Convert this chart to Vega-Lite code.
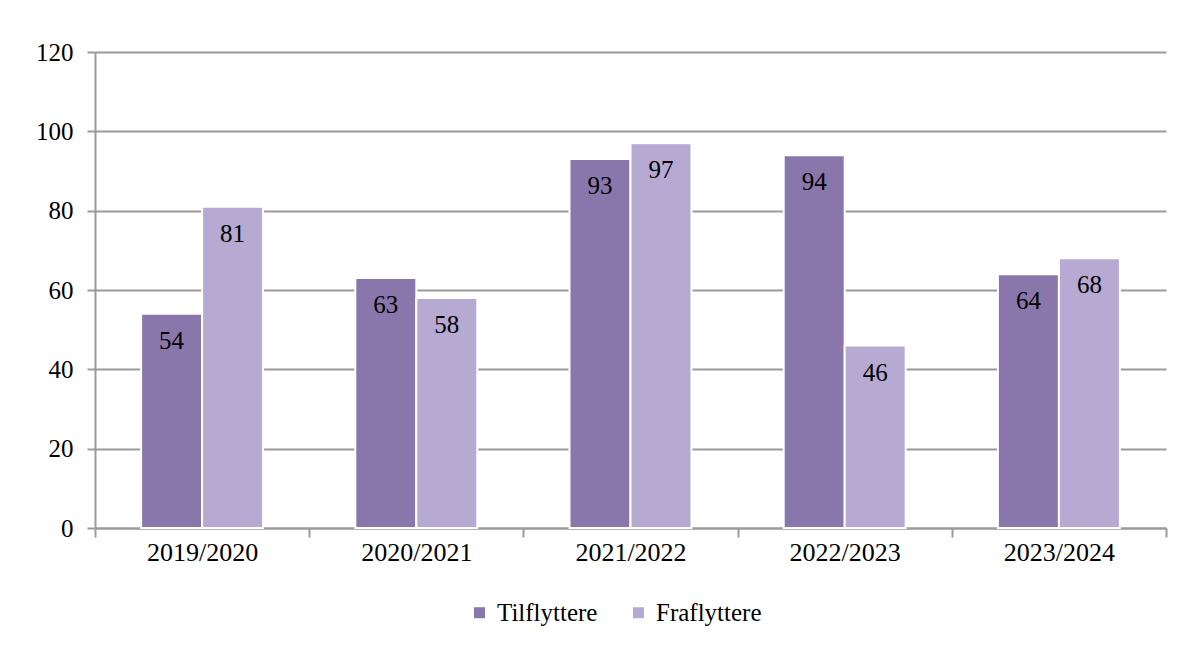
{
  "$schema": "https://vega.github.io/schema/vega-lite/v6.json",
  "width": 1071,
  "height": 476,
  "autosize": {"type": "none"},
  "padding": {"left": 95, "top": 52, "right": 34, "bottom": 129},
  "background": "white",
  "config": {
    "view": {"stroke": null},
    "font": "Liberation Serif",
    "axis": {"labelFont": "Liberation Serif", "labelColor": "black", "labelFontSize": 25, "domainColor": "#9a9a9a", "tickColor": "#9a9a9a", "domainWidth": 2, "tickWidth": 2}
  },
  "data": {
    "values": [
      {"periode": "2019/2020", "serie": "Tilflyttere", "antal": 54},
      {"periode": "2019/2020", "serie": "Fraflyttere", "antal": 81},
      {"periode": "2020/2021", "serie": "Tilflyttere", "antal": 63},
      {"periode": "2020/2021", "serie": "Fraflyttere", "antal": 58},
      {"periode": "2021/2022", "serie": "Tilflyttere", "antal": 93},
      {"periode": "2021/2022", "serie": "Fraflyttere", "antal": 97},
      {"periode": "2022/2023", "serie": "Tilflyttere", "antal": 94},
      {"periode": "2022/2023", "serie": "Fraflyttere", "antal": 46},
      {"periode": "2023/2024", "serie": "Tilflyttere", "antal": 64},
      {"periode": "2023/2024", "serie": "Fraflyttere", "antal": 68}
    ]
  },
  "encoding": {
    "x": {
      "field": "periode", "type": "nominal", "sort": null,
      "scale": {"paddingInner": 0, "paddingOuter": 0},
      "axis": {"title": null, "labelAngle": 0, "tickBand": "extent", "tickSize": 9, "labelPadding": 2, "labelFontSize": 26, "grid": false}
    },
    "xOffset": {
      "field": "serie", "type": "nominal", "sort": ["Tilflyttere", "Fraflyttere"],
      "scale": {"paddingInner": 0, "paddingOuter": 0.756}
    },
    "y": {
      "field": "antal", "type": "quantitative",
      "scale": {"domain": [0, 120], "nice": false},
      "axis": {"title": null, "values": [0, 20, 40, 60, 80, 100, 120], "grid": true, "gridColor": "#9a9a9a", "gridWidth": 2, "tickSize": 8, "labelPadding": 14}
    }
  },
  "layer": [
    {
      "mark": {"type": "bar", "stroke": "white", "strokeWidth": 2},
      "encoding": {
        "color": {
          "field": "serie", "type": "nominal", "sort": ["Tilflyttere", "Fraflyttere"],
          "scale": {"domain": ["Tilflyttere", "Fraflyttere"], "range": ["#8976ab", "#b6aad2"]},
          "legend": {
            "title": null, "orient": "none", "direction": "horizontal",
            "legendX": 372, "legendY": 548,
            "symbolType": "square", "symbolSize": 121, "symbolStrokeWidth": 0,
            "labelFont": "Liberation Serif", "labelFontSize": 25, "labelColor": "black",
            "labelOffset": 5, "columnPadding": 28
          }
        }
      }
    },
    {
      "mark": {"type": "text", "baseline": "middle", "dy": 27, "fontSize": 25, "font": "Liberation Serif", "color": "black"},
      "encoding": {"text": {"field": "antal", "type": "quantitative"}}
    }
  ]
}
